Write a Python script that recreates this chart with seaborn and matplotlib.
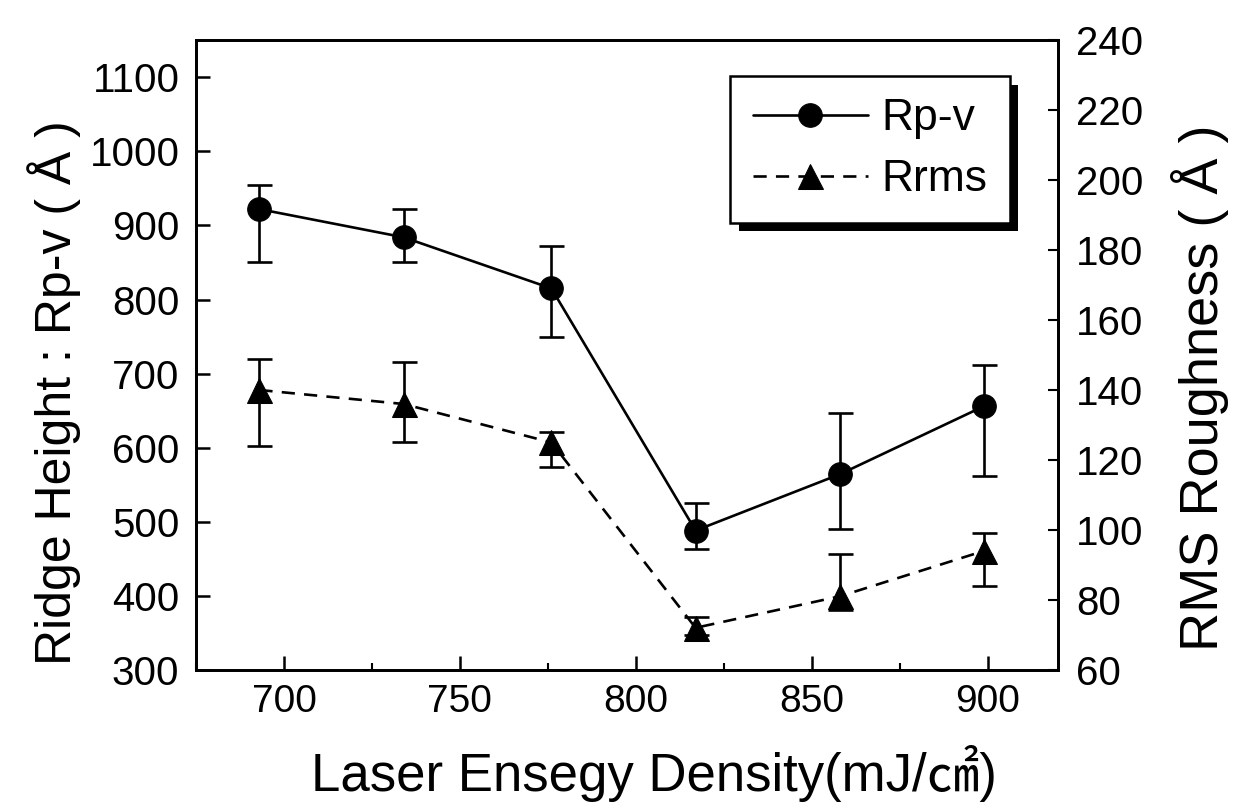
import numpy as np
import matplotlib
matplotlib.use("Agg")
import matplotlib.pyplot as plt
import matplotlib.patheffects as pe
from matplotlib.ticker import MultipleLocator
import seaborn as sns
import pandas as pd

# Data
energy = [693, 734, 776, 817, 858, 899]
rpv = [922, 884, 815, 488, 564, 656]
rpv_hi = [954, 922, 872, 525, 647, 712]
rpv_lo = [850, 850, 750, 463, 490, 562]
rrms = [140, 136, 125, 72, 81, 94]
rrms_hi = [149, 148, 128, 75, 93, 99]
rrms_lo = [124, 125, 118, 70, 77, 84]

sns.set_theme(style="ticks")
plt.rcParams['font.family'] = ['Liberation Sans', 'DejaVu Sans']
for k in ['text.color', 'axes.labelcolor', 'xtick.color', 'ytick.color', 'axes.edgecolor']:
    plt.rcParams[k] = 'black'

df = pd.DataFrame({"energy": energy, "rpv": rpv, "rrms": rrms})

fig = plt.figure(figsize=(12.49, 8.06), dpi=100)
ax = fig.add_axes([0.157, 0.169, 0.69, 0.781])
ax2 = ax.twinx()

# Rp-v on left axis
sns.lineplot(data=df, x="energy", y="rpv", ax=ax, color="black", lw=1.9,
             marker="o", markersize=17, markeredgecolor="black", label="Rp-v", legend=False)
yerr = [np.array(rpv) - np.array(rpv_lo), np.array(rpv_hi) - np.array(rpv)]
ax.errorbar(energy, rpv, yerr=yerr, fmt="none", ecolor="black", elinewidth=1.9,
            capsize=9, capthick=1.9)

# Rrms on right axis
sns.lineplot(data=df, x="energy", y="rrms", ax=ax2, color="black", lw=1.9,
             marker="^", markersize=18, markeredgecolor="black", label="Rrms", legend=False)
ax2.lines[0].set_dashes((5, 3.5))
yerr2 = [np.array(rrms) - np.array(rrms_lo), np.array(rrms_hi) - np.array(rrms)]
ax2.errorbar(energy, rrms, yerr=yerr2, fmt="none", ecolor="black", elinewidth=1.9,
             capsize=9, capthick=1.9)

ax.set_xlim(675, 920)
ax.set_ylim(300, 1150)
ax2.set_ylim(60, 240)

ax.xaxis.set_major_locator(MultipleLocator(50))
ax.xaxis.set_minor_locator(MultipleLocator(25))
ax.yaxis.set_major_locator(MultipleLocator(100))
ax2.yaxis.set_major_locator(MultipleLocator(20))

ax.tick_params(axis="x", direction="in", length=10, width=1.8, labelsize=28, pad=10, top=False)
ax.tick_params(axis="x", which="minor", direction="in", length=5, width=1.5, top=False)
ax.tick_params(axis="y", direction="in", length=10, width=1.8, labelsize=29, pad=12, right=False)
ax2.tick_params(axis="y", direction="in", length=7, width=1.5, labelsize=29, pad=13)

ax.set_xlabel("Laser Ensegy Density(mJ/\u33a0)", fontsize=38,
              family=['Liberation Sans', 'Noto Sans CJK KR'])
ax.set_ylabel("Ridge Height : Rp-v ( Å )", fontsize=36)
ax2.set_ylabel("RMS Roughness ( Å )", fontsize=39)
ax.xaxis.set_label_coords(0.531, -0.119)
ax.yaxis.set_label_coords(-0.133, 0.44)
ax2.yaxis.set_label_coords(1.131, 0.448)

for a in (ax, ax2):
    for s in a.spines.values():
        s.set_linewidth(2)
        s.set_color("black")

handles = [ax.lines[0], ax2.lines[0]]
leg = ax2.legend(handles, ["Rp-v", "Rrms"], loc="upper right", bbox_to_anchor=(0.944, 0.943),
                 fontsize=32, frameon=True, fancybox=False, handlelength=2.6,
                 handletextpad=0.3, borderpad=0.5, labelspacing=0.45, borderaxespad=0)
frame = leg.get_frame()
frame.set_edgecolor("black")
frame.set_linewidth(1.8)
frame.set_alpha(1)
frame.set_path_effects([pe.SimplePatchShadow(offset=(6, -6), shadow_rgbFace="black", alpha=1),
                        pe.Normal()])

fig.savefig("out.png", dpi=100)
